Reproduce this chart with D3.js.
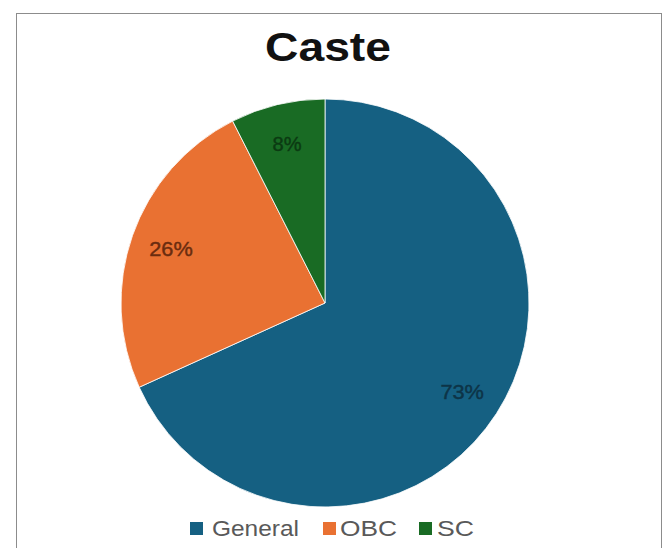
<!DOCTYPE html>
<html>
<head>
<meta charset="utf-8">
<script src="https://cdn.jsdelivr.net/npm/d3@7"></script>
<style>
  html, body { margin: 0; padding: 0; background: #fff; }
  svg { display: block; }
</style>
</head>
<body>
<svg id="chart" width="665" height="548"></svg>
<script>
// Caste distribution
const categories = ["General", "OBC", "SC"];
const values = [73, 26, 8];
const colors = ["#156082", "#E97132", "#196B24"];
const labelColors = ["#0d3447", "#6a2c0f", "#0b3a12"];

const svg = d3.select("#chart");
const FONT = "Liberation Sans, Arial, sans-serif";

// Frame
svg.append("rect")
  .attr("x", 16.5).attr("y", 13.5)
  .attr("width", 645).attr("height", 560)
  .attr("fill", "#fff")
  .attr("stroke", "#8c8c8c")
  .attr("stroke-width", 1);

// Title
svg.append("text")
  .attr("x", 328).attr("y", 61)
  .attr("text-anchor", "middle")
  .attr("font-family", FONT)
  .attr("font-weight", "bold")
  .attr("font-size", 40)
  .attr("textLength", 126)
  .attr("lengthAdjust", "spacingAndGlyphs")
  .attr("fill", "#111")
  .text("Caste");

const cx = 325, cy = 303, R = 204;
const data = categories.map((c, i) => ({ name: c, value: values[i], color: colors[i], lc: labelColors[i] }));

const pie = d3.pie().value(d => d.value).sort(null);
const arc = d3.arc().innerRadius(0).outerRadius(R);
const labelArc = d3.arc().innerRadius(R * 0.8).outerRadius(R * 0.8);

const g = svg.append("g").attr("transform", `translate(${cx},${cy})`);
const arcs = pie(data);

g.selectAll("path")
  .data(arcs)
  .join("path")
  .attr("d", arc)
  .attr("fill", d => d.data.color)
  .attr("stroke", "#ffffff")
  .attr("stroke-width", 0.8);

// Percentage labels inside each slice
g.selectAll("text.lbl")
  .data(arcs)
  .join("text")
  .attr("class", "lbl")
  .attr("transform", d => `translate(${labelArc.centroid(d)})`)
  .attr("text-anchor", "middle")
  .attr("dy", "0.36em")
  .attr("font-family", FONT)
  .attr("font-size", 20)
  .attr("font-weight", 500)
  .attr("stroke", d => d.data.lc)
  .attr("stroke-width", 0.4)
  .attr("textLength", d => (String(d.data.value).length + 1) * 14.5)
  .attr("lengthAdjust", "spacingAndGlyphs")
  .attr("fill", d => d.data.lc)
  .text(d => d.data.value + "%");

// Legend
const legendItems = [
  { x: 190, tx: 212, w: 87 },
  { x: 323, tx: 340, w: 57 },
  { x: 419, tx: 437, w: 37 }
];
const legend = svg.append("g");
data.forEach((d, i) => {
  legend.append("rect")
    .attr("x", legendItems[i].x).attr("y", 522)
    .attr("width", 13).attr("height", 13)
    .attr("fill", d.color);
  legend.append("text")
    .attr("x", legendItems[i].tx).attr("y", 536)
    .attr("font-family", FONT)
    .attr("font-size", 22)
    .attr("textLength", legendItems[i].w)
    .attr("lengthAdjust", "spacingAndGlyphs")
    .attr("fill", "#595959")
    .text(d.name);
});
</script>
</body>
</html>
